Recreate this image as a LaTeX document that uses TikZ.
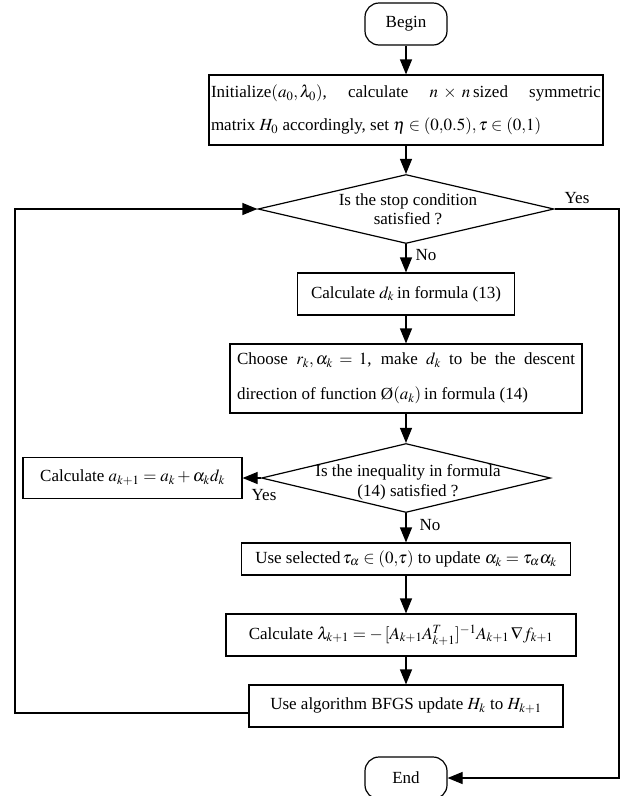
\documentclass[tikz,border=0pt]{standalone}
\usepackage{amsmath}
\usepackage{amssymb}
\usepackage{mathptmx}
\usepackage{fontspec}
\setmainfont{Liberation Serif}
\usepackage{xcolor}
\usepackage{tikz}
\usetikzlibrary{arrows.meta,shapes.geometric}

\begin{document}
\begin{tikzpicture}[x=1pt,y=-1pt,
	every node/.style={font=\fontsize{17}{20}\selectfont},
	flow/.style={line width=1.2pt,-{Triangle[length=15pt,width=12pt]}},
	wire/.style={line width=1.2pt},
	proc/.style={draw,line width=1.2pt,inner sep=0pt,align=center},
	term/.style={draw,line width=1.2pt,rounded corners=14pt,minimum width=82pt,minimum height=42pt,inner sep=0pt},
	decision/.style={draw,diamond,line width=1.2pt,inner sep=0pt}]
					\useasboundingbox (0,0) rectangle (621,796);
					\node[term] (begin) at (406,24) {Begin};
					\node[proc,minimum width=394pt,minimum height=70pt,text width=390pt,align=justify,font=\fontsize{17}{33}\selectfont] (init) at (406,110) {Initialize$(a_0,\lambda_0)$,\ \ calculate \ $n\times n$\,sized \ symmetric\linebreak matrix $H_0$ accordingly, set $\eta\in(0{,}0.5),\tau\in(0{,}1)$};
					\node[decision,minimum width=296pt,minimum height=69pt] (stop) at (406,209) {};
					\node[align=center,font=\fontsize{17}{19.5}\selectfont] (stoptxt) at (408,209) {Is the stop condition\\satisfied ?};
					\node[proc,minimum width=217pt,minimum height=42pt] (dk) at (406,294) {Calculate $d_k$\,in formula (13)};
					\node[proc,minimum width=352pt,minimum height=69pt,text width=338pt,align=justify,font=\fontsize{17}{35}\selectfont] (choose) at (406,378.5) {Choose $r_k,\alpha_k=1$, make $d_k$ to be the descent\linebreak direction of function \O$(a_k)$\,in formula (14)};
					\node[decision,minimum width=289pt,minimum height=69pt] (ineq) at (406,478) {};
					\node[align=center,font=\fontsize{17}{20}\selectfont] (ineqtxt) at (408,482) {Is the inequality in formula\\(14) satisfied ?};
					\node[proc,minimum width=219pt,minimum height=41pt] (anew) at (132.5,478) {Calculate $a_{k+1}=a_k+\alpha_k d_k$};
					\node[proc,minimum width=329pt,minimum height=32pt] (upd) at (406,559) {Use selected$\,\tau_\alpha\in(0{,}\tau)$ to update $\alpha_k=\tau_\alpha\alpha_k$};
					\node[proc,minimum width=350pt,minimum height=42pt] (lam) at (401,635) {Calculate $\lambda_{k+1}=-\,[A_{k+1}A_{k+1}^T]^{-1}A_{k+1}\,\nabla f_{k+1}$};
					\node[proc,minimum width=314pt,minimum height=42pt] (bfgs) at (406,706) {Use algorithm BFGS update $H_k$ to $H_{k+1}$};
					\node[term] (end) at (406,778) {End};
					% branch labels
					\node (yes1) at (577,198) {Yes};
					\node (no1) at (426,255) {No};
					\node (yes2) at (264,495) {Yes};
					\node (no2) at (430,525) {No};
					\coordinate (rgt) at (619,209);
					\coordinate (lft) at (15,713);
					\draw[flow] (begin) -- (init);
					\draw[flow] (init) -- (stop);
					\draw[flow] (stop) -- (dk);
					\draw[flow] (dk) -- (choose);
					\draw[flow] (choose) -- (ineq);
					\draw[flow] (ineq.west) -- (anew.east);
					\draw[flow] (ineq) -- (upd);
					\draw[flow] (upd.south) -- (upd.south |- lam.north);
					\draw[flow] (upd.south |- lam.south) -- (upd.south |- bfgs.north);
					\draw[flow] (stop.east) -- (rgt) |- (end.east);
					\draw[flow] ([yshift=-7pt]bfgs.west) -- (lft) |- (stop.west);
				\end{tikzpicture}
\end{document}
